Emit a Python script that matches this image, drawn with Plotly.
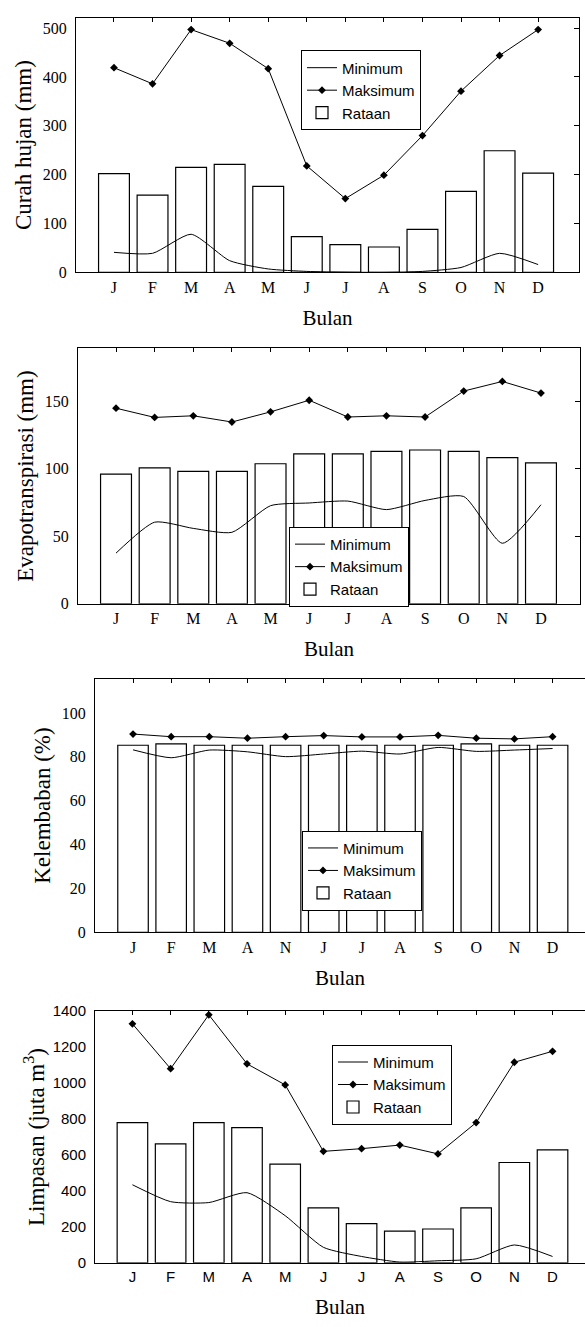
import plotly.graph_objects as go

W, H = 585, 1327

months_a = ["J", "F", "M", "A", "M", "J", "J", "A", "S", "O", "N", "D"]
months_c = ["J", "F", "M", "A", "N", "J", "J", "A", "S", "O", "N", "D"]

# Panel 1: Curah hujan (mm)
ch_min = [41, 39, 78, 24, 7, 2, 0.5, 0, 2, 10, 39, 16]
ch_max = [419, 386, 497, 469, 417, 218, 151, 199, 280, 371, 444, 497]
ch_avg = [202, 158, 215, 221, 176, 73, 57, 52, 88, 166, 249, 203]

# Panel 2: Evapotranspirasi (mm)
ev_min = [37.5, 60.4, 55.8, 52.9, 72.6, 74.6, 76.0, 69.7, 76.5, 79.4, 44.8, 73.3]
ev_max = [144.7, 137.9, 139.1, 134.5, 142, 150.6, 138.2, 139.1, 138.2, 157.4, 164.5, 155.9]
ev_avg = [96, 100.6, 98, 98, 103.6, 110.9, 110.9, 112.8, 113.8, 112.8, 108.2, 104.3]

# Panel 3: Kelembaban (%)
kl_min = [83.2, 79.6, 83.1, 82.3, 80.1, 81.3, 82.6, 81.3, 84.3, 82.5, 83.1, 83.8]
kl_max = [90.4, 89.2, 89.2, 88.5, 89.2, 89.7, 89.1, 89.1, 89.8, 88.5, 88.2, 89.2]
kl_avg = [85.3, 85.9, 85.3, 85.3, 85.3, 85.3, 85.3, 85.3, 85.3, 85.9, 85.3, 85.3]

# Panel 4: Limpasan (juta m3)
lp_min = [434, 340, 335, 390, 262, 86, 35, 4, 11, 22, 99, 35]
lp_max = [1330, 1080, 1380, 1107, 990, 620, 635, 655, 606, 780, 1116, 1177]
lp_avg = [780, 662, 780, 752, 549, 306, 218, 176, 188, 306, 558, 628]

SERIF = "Liberation Serif"
SANS = "Liberation Sans"

panels = [
    dict(mn=ch_min, mx=ch_max, av=ch_avg, labels=months_a, title="Curah hujan (mm)",
         px=(76, 579), py=(9, 267), xr=(-0.985, 12.06), yr=(0, 521),
         yt=[0, 100, 200, 300, 400, 500], tickfont=SERIF, tfs=16, right=True,
         leg=(301, 42), tstd=4),
    dict(mn=ev_min, mx=ev_max, av=ev_avg, labels=months_a, title="Evapotranspirasi (mm)",
         px=(78, 580), py=(344, 603), xr=(-0.984, 12.01), yr=(0, 189),
         yt=[0, 50, 100, 150], tickfont=SERIF, tfs=16, right=True,
         leg=(289, 525), tstd=4),
    dict(mn=kl_min, mx=kl_max, av=kl_avg, labels=months_c, title="Kelembaban (%)",
         px=(95, 585), py=(679, 936), xr=(-0.997, 11.85), yr=(0, 115.6),
         yt=[0, 20, 40, 60, 80, 100], tickfont=SERIF, tfs=16, right=False,
         leg=(302, 833), tstd=4),
    dict(mn=lp_min, mx=lp_max, av=lp_avg, labels=months_a, title="Limpasan (juta m<sup>3</sup>)",
         px=(95, 585), py=(1016, 1271), xr=(-0.98, 11.85), yr=(0, 1400),
         yt=[0, 200, 400, 600, 800, 1000, 1200, 1400], tickfont=SANS, tfs=15, right=False,
         leg=(332, 1050), tstd=1),
]


def fx(px):
    return min(max(px / W, 0), 1)


def fy(py):
    return min(max(1 - py / H, 0), 1)


fig = go.Figure()
layout = dict(width=W, height=H, margin=dict(l=0, r=0, t=0, b=0),
              paper_bgcolor="white", plot_bgcolor="white", bargap=0.2,
              showlegend=True, hovermode=False,
              font=dict(family=SERIF, color="black"))

xs = list(range(12))
for i, p in enumerate(panels):
    xa, xb = 2 * i + 1, 2 * i + 2
    ya, yb = 2 * i + 1, 2 * i + 2
    xid_a = "x" if xa == 1 else f"x{xa}"
    yid_a = "y" if ya == 1 else f"y{ya}"
    xid_b, yid_b = f"x{xb}", f"y{yb}"
    legname = "legend" if i == 0 else f"legend{i + 1}"
    xr = list(p["xr"])

    fig.add_trace(go.Scatter(x=xs, y=p["mn"], name="Minimum", mode="lines",
                             line=dict(color="black", width=1, shape="spline", smoothing=0.6),
                             xaxis=xid_a, yaxis=yid_a, legend=legname))
    fig.add_trace(go.Scatter(x=xs, y=p["mx"], name="Maksimum", mode="lines+markers",
                             line=dict(color="black", width=1),
                             marker=dict(symbol="diamond", size=6, color="black"),
                             xaxis=xid_a, yaxis=yid_a, legend=legname))
    fig.add_trace(go.Bar(x=xs, y=p["av"], name="Rataan", width=0.8,
                         marker=dict(color="white", line=dict(color="black", width=1.2)),
                         xaxis=xid_a, yaxis=yid_a, legend=legname))
    fig.add_trace(go.Scatter(x=[None], y=[None], mode="markers", showlegend=False,
                             hoverinfo="skip", xaxis=xid_b, yaxis=yid_b))

    dx = [fx(p["px"][0]), fx(p["px"][1])]
    dy = [fy(p["py"][1]), fy(p["py"][0])]
    tf = dict(family=p["tickfont"], size=p["tfs"], color="black")

    layout["xaxis" if xa == 1 else f"xaxis{xa}"] = dict(
        domain=dx, range=xr, anchor=yid_a, tickmode="array",
        tickvals=xs, ticktext=p["labels"], ticks="", showgrid=False, zeroline=False,
        showline=True, linecolor="black", linewidth=1, mirror=True,
        tickfont=tf, ticklabelstandoff=0,
        title=dict(text="Bulan", font=dict(family=SERIF, size=21, color="black"), standoff=15),
    )
    layout[f"xaxis{xb}"] = dict(
        overlaying=xid_a, side="top", anchor=yid_a, range=xr,
        tickmode="array", tickvals=xs, ticks="inside", ticklen=4, tickcolor="black",
        showticklabels=False, showgrid=False, zeroline=False, showline=False,
    )
    layout["yaxis" if ya == 1 else f"yaxis{ya}"] = dict(
        domain=dy, range=list(p["yr"]), anchor=xid_a, tickmode="array",
        tickvals=p["yt"], ticks="", showgrid=False, zeroline=False,
        showline=True, linecolor="black", linewidth=1, mirror=p["right"],
        tickfont=tf, ticklabelstandoff=5,
        title=dict(text=p["title"], font=dict(family=SERIF, size=23, color="black"),
                   standoff=p["tstd"]),
    )
    layout[f"yaxis{yb}"] = dict(
        overlaying=yid_a, side="right", anchor=xid_a, range=list(p["yr"]),
        tickmode="array", tickvals=p["yt"][1:], ticks="inside" if p["right"] else "",
        ticklen=5, tickcolor="black", showticklabels=False, showgrid=False,
        zeroline=False, showline=False,
    )
    layout[legname] = dict(
        x=fx(p["leg"][0]), y=fy(p["leg"][1]), xanchor="left", yanchor="top",
        bgcolor="white", bordercolor="black", borderwidth=1,
        font=dict(family=SANS, size=15, color="black"), traceorder="normal",
        tracegroupgap=0, itemwidth=30,
    )

fig.update_layout(**layout)
fig.write_html("out.html", config={"displayModeBar": False},
               post_script="document.body.style.margin='0';document.body.style.overflow='hidden';")
